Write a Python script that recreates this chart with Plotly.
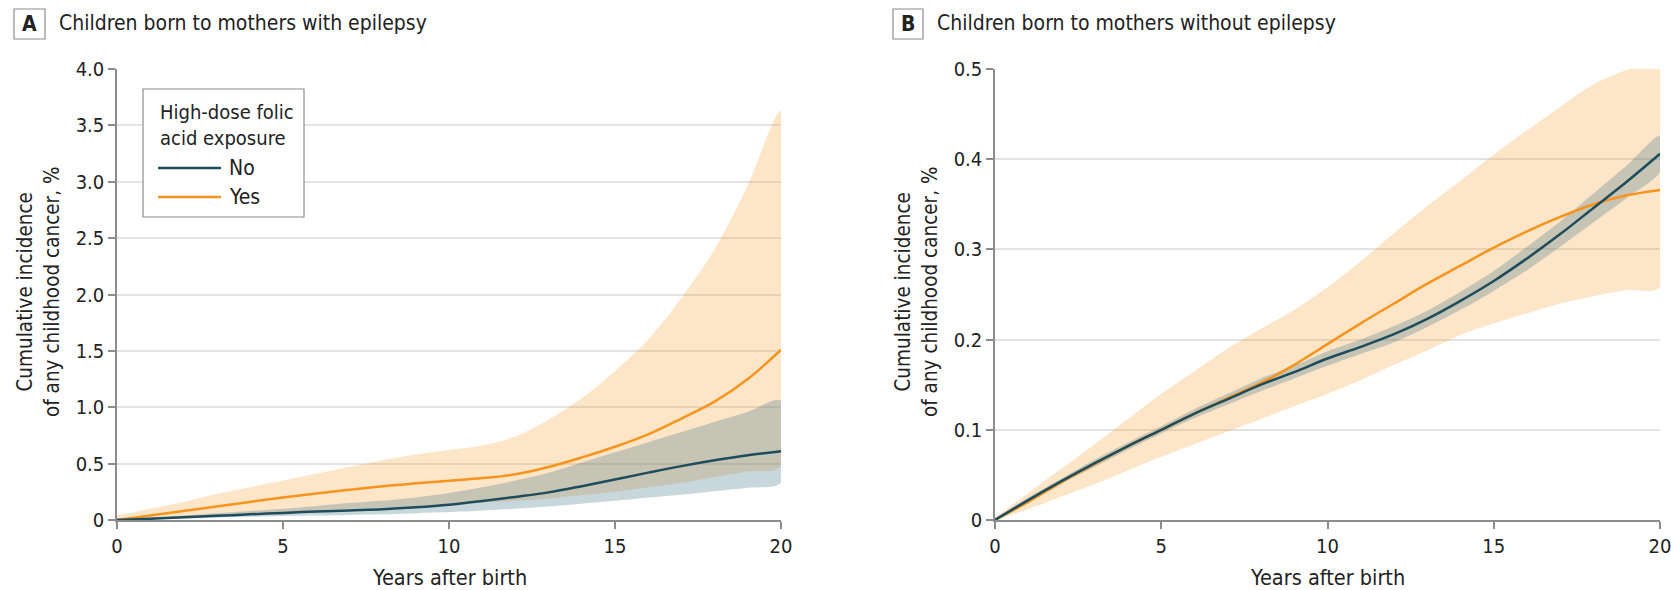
import plotly.graph_objects as go

# ---------------- DATA ----------------
years = list(range(0, 21))
x_ticks = [0, 5, 10, 15, 20]

# Panel A: children born to mothers with epilepsy (cumulative incidence, %)
a_no = [0, 0.012, 0.025, 0.037, 0.05, 0.063, 0.075, 0.085, 0.095, 0.112, 0.135,
        0.168, 0.205, 0.245, 0.3, 0.36, 0.42, 0.478, 0.53, 0.575, 0.61]
a_no_hi = [0, 0.02, 0.04, 0.06, 0.08, 0.10, 0.125, 0.15, 0.17, 0.2, 0.24,
           0.29, 0.35, 0.42, 0.51, 0.6, 0.69, 0.78, 0.87, 0.96, 1.06]
a_no_lo = [0, 0.007, 0.014, 0.021, 0.028, 0.035, 0.04, 0.045, 0.05, 0.06, 0.07,
           0.085, 0.1, 0.12, 0.145, 0.17, 0.2, 0.225, 0.255, 0.285, 0.33]
a_yes = [0, 0.04, 0.08, 0.12, 0.16, 0.2, 0.235, 0.268, 0.3, 0.325, 0.348,
         0.372, 0.405, 0.47, 0.555, 0.65, 0.76, 0.9, 1.05, 1.25, 1.51]
a_yes_hi = [0.04, 0.1, 0.16, 0.23, 0.29, 0.35, 0.41, 0.47, 0.53, 0.58, 0.62,
            0.66, 0.74, 0.89, 1.08, 1.32, 1.6, 1.97, 2.4, 2.97, 3.63]
a_yes_lo = [0, 0.015, 0.03, 0.045, 0.06, 0.07, 0.085, 0.1, 0.11, 0.125, 0.14,
            0.155, 0.17, 0.19, 0.22, 0.25, 0.29, 0.33, 0.38, 0.43, 0.48]

# Panel B: children born to mothers without epilepsy (cumulative incidence, %)
b_no = [0, 0.022, 0.043, 0.063, 0.082, 0.1, 0.118, 0.134, 0.15, 0.164, 0.179,
        0.192, 0.206, 0.223, 0.243, 0.265, 0.29, 0.317, 0.346, 0.375, 0.406]
b_no_hi = [0.002, 0.025, 0.046, 0.067, 0.086, 0.104, 0.123, 0.14, 0.157, 0.171, 0.187,
           0.2, 0.215, 0.232, 0.253, 0.276, 0.303, 0.331, 0.362, 0.393, 0.426]
b_no_lo = [0, 0.019, 0.04, 0.059, 0.078, 0.096, 0.113, 0.128, 0.143, 0.157, 0.171,
           0.184, 0.197, 0.214, 0.233, 0.254, 0.277, 0.303, 0.33, 0.357, 0.386]
b_yes = [0, 0.02, 0.042, 0.062, 0.082, 0.1, 0.118, 0.135, 0.152, 0.172, 0.195,
         0.218, 0.24, 0.262, 0.282, 0.302, 0.32, 0.336, 0.35, 0.36, 0.366]
b_yes_hi = [0.003, 0.03, 0.057, 0.084, 0.112, 0.14, 0.165, 0.19, 0.212, 0.233, 0.258,
            0.287, 0.318, 0.348, 0.376, 0.405, 0.432, 0.458, 0.483, 0.499, 0.508]
b_yes_lo = [0, 0.012, 0.026, 0.04, 0.055, 0.07, 0.084, 0.098, 0.112, 0.126, 0.14,
            0.155, 0.172, 0.188, 0.205, 0.218, 0.229, 0.24, 0.248, 0.255, 0.258]

a_yticks = [0, 0.5, 1.0, 1.5, 2.0, 2.5, 3.0, 3.5, 4.0]
a_yticktext = ["0", "0.5", "1.0", "1.5", "2.0", "2.5", "3.0", "3.5", "4.0"]
b_yticks = [0, 0.1, 0.2, 0.3, 0.4, 0.5]
b_yticktext = ["0", "0.1", "0.2", "0.3", "0.4", "0.5"]

legend_title = "High-dose folic<br>acid exposure"
series_names = ["No", "Yes"]

# ---------------- STYLE ----------------
W, H = 1671, 590
FONT = "Liberation Sans Narrow, DejaVu Sans Condensed, Arial Narrow, Roboto Condensed, Liberation Sans, sans-serif"
TXT = "#222222"
NO_COLOR = "#1f4c5a"
YES_COLOR = "#f7941d"
NO_FILL = "rgba(58,110,130,0.28)"
YES_FILL = "rgba(247,148,29,0.243)"
AXIS = "#8c8c8c"
GRID = "#e3e3e3"

def px_x(v):
    return v / W

def px_y(v):
    return 1 - v / H

fig = go.Figure()

def add_panel(xa, ya, no, no_hi, no_lo, yes, yes_hi, yes_lo):
    fig.add_trace(go.Scatter(x=years + years[::-1], y=yes_hi + yes_lo[::-1], fill="toself",
                             fillcolor=YES_FILL, line=dict(width=0, shape="spline", smoothing=0.8),
                             mode="lines", hoverinfo="skip", showlegend=False, xaxis=xa, yaxis=ya))
    fig.add_trace(go.Scatter(x=years + years[::-1], y=no_hi + no_lo[::-1], fill="toself",
                             fillcolor=NO_FILL, line=dict(width=0, shape="spline", smoothing=0.8),
                             mode="lines", hoverinfo="skip", showlegend=False, xaxis=xa, yaxis=ya))
    fig.add_trace(go.Scatter(x=years, y=yes, mode="lines",
                             line=dict(color=YES_COLOR, width=2.5, shape="spline", smoothing=1.0),
                             name=series_names[1], showlegend=False, xaxis=xa, yaxis=ya))
    fig.add_trace(go.Scatter(x=years, y=no, mode="lines",
                             line=dict(color=NO_COLOR, width=2.5, shape="spline", smoothing=1.0),
                             name=series_names[0], showlegend=False, xaxis=xa, yaxis=ya))

add_panel("x", "y", a_no, a_no_hi, a_no_lo, a_yes, a_yes_hi, a_yes_lo)
add_panel("x2", "y2", b_no, b_no_hi, b_no_lo, b_yes, b_yes_hi, b_yes_lo)

xax = dict(range=[0, 20], tickvals=x_ticks, ticks="outside", ticklen=7, tickwidth=1.5,
           tickcolor=AXIS, showline=True, linecolor=AXIS, linewidth=1.5, showgrid=False,
           zeroline=False, automargin=False, ticklabeloverflow="allow",
           tickfont=dict(family=FONT, size=20, color=TXT), fixedrange=True)
yax = dict(ticks="outside", ticklen=7, tickwidth=1.5, tickcolor=AXIS, showline=True,
           linecolor=AXIS, linewidth=1.5, showgrid=True, gridcolor=GRID, gridwidth=1.5,
           zeroline=False, automargin=False,
           tickfont=dict(family=FONT, size=20, color=TXT), fixedrange=True)

ydom = [px_y(520), px_y(69)]
fig.update_layout(
    template="none",
    width=W, height=H, margin=dict(l=0, r=0, t=0, b=0, pad=0, autoexpand=False),
    paper_bgcolor="white", plot_bgcolor="white", showlegend=False,
    xaxis=dict(xax, domain=[px_x(117), px_x(781)], anchor="y"),
    yaxis=dict(yax, domain=ydom, range=[0, 4.0], tickvals=a_yticks, ticktext=a_yticktext, anchor="x"),
    xaxis2=dict(xax, domain=[px_x(995), px_x(1660)], anchor="y2"),
    yaxis2=dict(yax, domain=ydom, range=[0, 0.5], tickvals=b_yticks, ticktext=b_yticktext, anchor="x2"),
)

ann = []
shapes = []
# Panel labels and titles
for lx0, lx1, letter, tx, title in [(14, 45, "A", 57, "Children born to mothers with epilepsy"),
                                     (893, 923, "B", 935, "Children born to mothers without epilepsy")]:
    shapes.append(dict(type="rect", xref="paper", yref="paper", x0=px_x(lx0), x1=px_x(lx1),
                       y0=px_y(39), y1=px_y(9), line=dict(color="#8c8c8c", width=1.2), fillcolor="white"))
    ann.append(dict(x=px_x((lx0 + lx1) / 2), y=px_y(24), xref="paper", yref="paper", text="<b>" + letter + "</b>",
                    showarrow=False, xanchor="center", yanchor="middle",
                    font=dict(family=FONT, size=21, color=TXT)))
    ann.append(dict(x=px_x(tx), y=px_y(23), xref="paper", yref="paper", text=title,
                    showarrow=False, xanchor="left", yanchor="middle",
                    font=dict(family=FONT, size=21, color=TXT)))

# Axis titles
for cx, px_center in [(38, 449), (916, 1327)]:
    ann.append(dict(x=px_x(cx), y=px_y(292), xref="paper", yref="paper",
                    text="Cumulative incidence<br>of any childhood cancer, %", textangle=-90,
                    showarrow=False, xanchor="center", yanchor="middle",
                    font=dict(family=FONT, size=20.5, color=TXT)))
    ann.append(dict(x=px_x(px_center), y=px_y(577), xref="paper", yref="paper",
                    text="Years after birth", showarrow=False, xanchor="center", yanchor="middle",
                    font=dict(family=FONT, size=21.5, color=TXT)))

# Manual legend (panel A)
shapes.append(dict(type="rect", xref="paper", yref="paper", x0=px_x(143), x1=px_x(304),
                   y0=px_y(217), y1=px_y(89), line=dict(color="#8c8c8c", width=1.2), fillcolor="white"))
ann.append(dict(x=px_x(158), y=px_y(125), xref="paper", yref="paper", text=legend_title,
                showarrow=False, xanchor="left", yanchor="middle", align="left",
                font=dict(family=FONT, size=20, color=TXT)))
for yy, col, name in [(168, NO_COLOR, series_names[0]), (197, YES_COLOR, series_names[1])]:
    shapes.append(dict(type="line", xref="paper", yref="paper", x0=px_x(158), x1=px_x(221),
                       y0=px_y(yy), y1=px_y(yy), line=dict(color=col, width=2.5)))
    ann.append(dict(x=px_x(227), y=px_y(yy), xref="paper", yref="paper", text=name,
                    showarrow=False, xanchor="left", yanchor="middle",
                    font=dict(family=FONT, size=21, color=TXT)))

fig.update_layout(annotations=ann, shapes=shapes)

# Remove the default page margin so the 1671x590 figure fills the window exactly
page_fix = ("document.body.style.margin='0px';"
            "document.body.style.padding='0px';"
            "document.documentElement.style.overflow='hidden';"
            "document.body.style.overflow='hidden';")
fig.write_html("out.html", post_script=page_fix, config={"displayModeBar": False})
